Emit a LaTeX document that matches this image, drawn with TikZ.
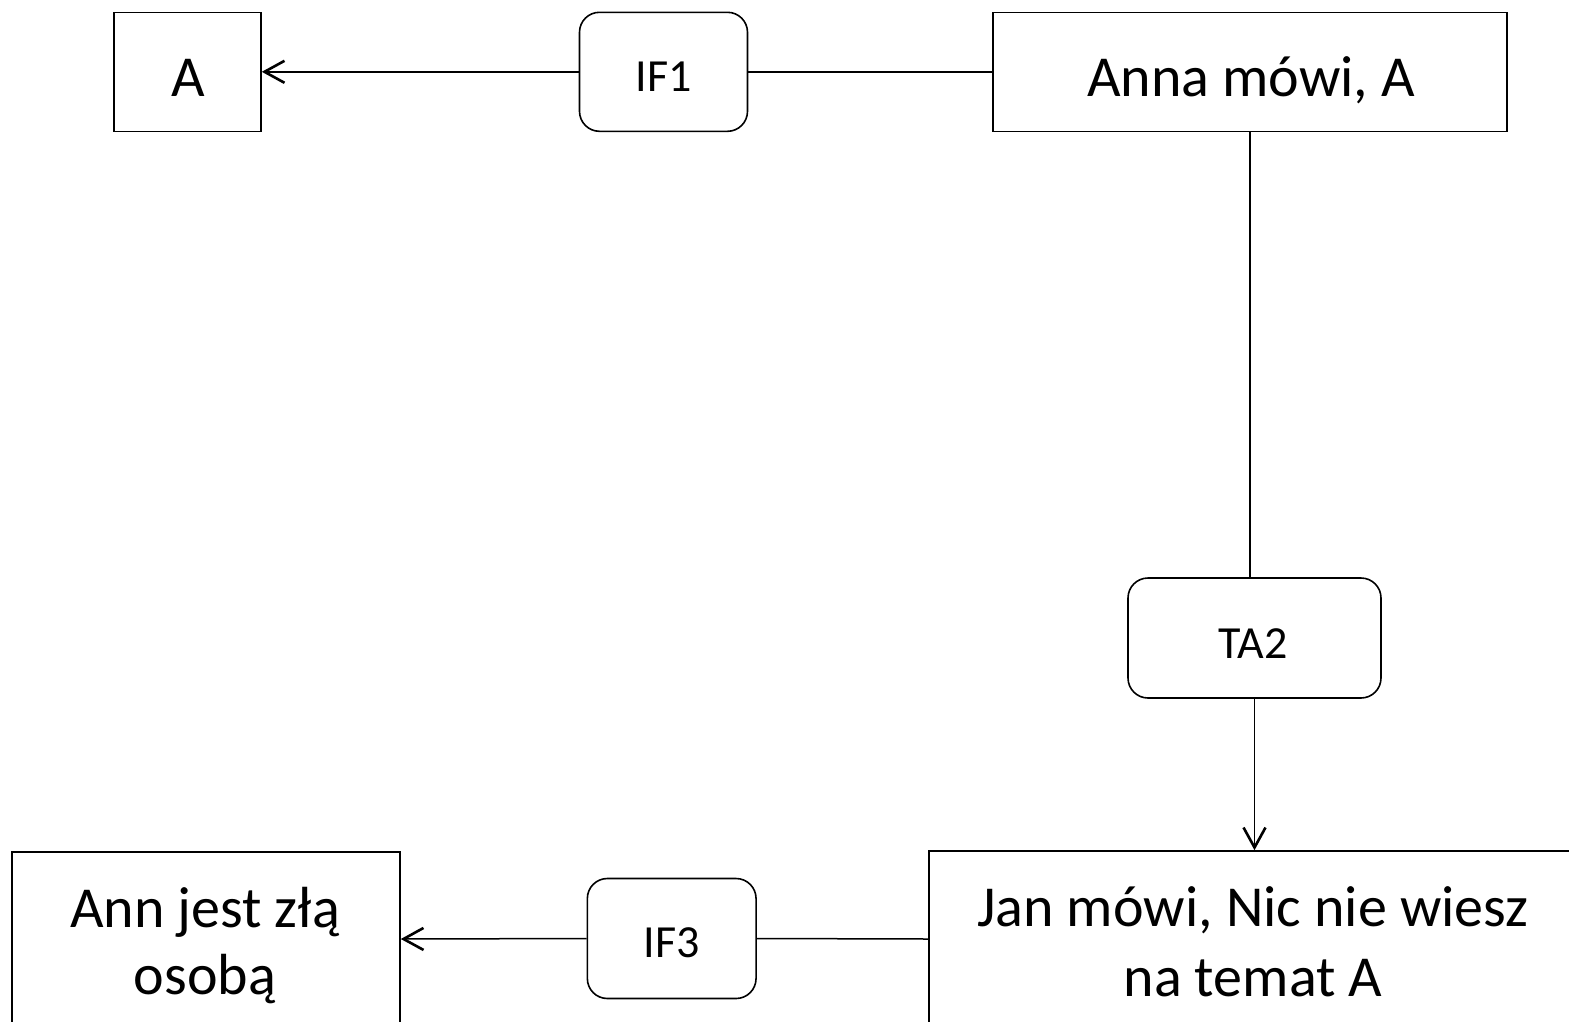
\documentclass[tikz,border=0pt]{standalone}
\usepackage{fontspec}
\setmainfont{Carlito}
\usetikzlibrary{arrows.meta}
\begin{document}
\begin{tikzpicture}[x=1pt,y=-1pt,
  box/.style={draw, line width=1.6pt, rectangle, inner sep=0pt},
  rbox/.style={draw, line width=1.6pt, rectangle, rounded corners=20pt, inner sep=0pt},
  bigtxt/.style={inner sep=0pt, anchor=base, font=\fontsize{58}{70}\selectfont},
  smalltxt/.style={inner sep=0pt, anchor=base, font=\fontsize{46}{55}\selectfont},
  conn/.style={line width=1.5pt},
  arr/.style={line width=1.5pt, -{Straight Barb[length=20pt,width=22pt,line width=2.6pt]}}
]
\path[use as bounding box] (0,0) rectangle (1569,1021);
\clip (0,0) rectangle (1569,1021);
% boxes
\node[box, minimum width=147pt, minimum height=119pt] (a) at (187.5,71.8) {};
\node[rbox, minimum width=168pt, minimum height=119pt] (if1) at (663.5,71.8) {};
\node[box, minimum width=514pt, minimum height=119pt] (anna) at (1250,71.8) {};
\node[rbox, minimum width=253pt, minimum height=120pt] (ta2) at (1254.5,638) {};
\node[box, minimum width=648pt, minimum height=176pt] (jan) at (1253,939) {};
\node[rbox, minimum width=168.7pt, minimum height=120pt] (if3) at (671.7,938.5) {};
\node[box, minimum width=388pt, minimum height=174pt] (ann) at (206,939) {};
% texts
\node[bigtxt] (at) at (188,96.7) {A};
\node[smalltxt] (if1t) at (664,91.7) {IF1};
\node[bigtxt] (annat) at (1251,96) {Anna mówi, A};
\node[smalltxt] (ta2t) at (1253,658.3) {TA2};
\node[smalltxt] (if3t) at (672,957.7) {IF3};
\node[bigtxt] (jant1) at (1253,926.7) {Jan mówi, Nic nie wiesz};
\node[bigtxt] (jant2) at (1253,996.7) {na temat A};
\node[bigtxt] (annt1) at (205,927.3) {Ann jest złą};
\node[bigtxt] (annt2) at (205,994) {osobą};
% connectors
\draw[conn] (anna.west) -- (if1.east);
\draw[arr] (if1.west) -- (a.east);
\draw[conn] (anna.south) -- (anna.south |- ta2.north);
\draw[arr] (ta2.south) -- (ta2.south |- jan.north);
\draw[conn] (jan.west) -- (if3.east);
\draw[arr] (if3.west) -- (ann.east);
\end{tikzpicture}
\end{document}
